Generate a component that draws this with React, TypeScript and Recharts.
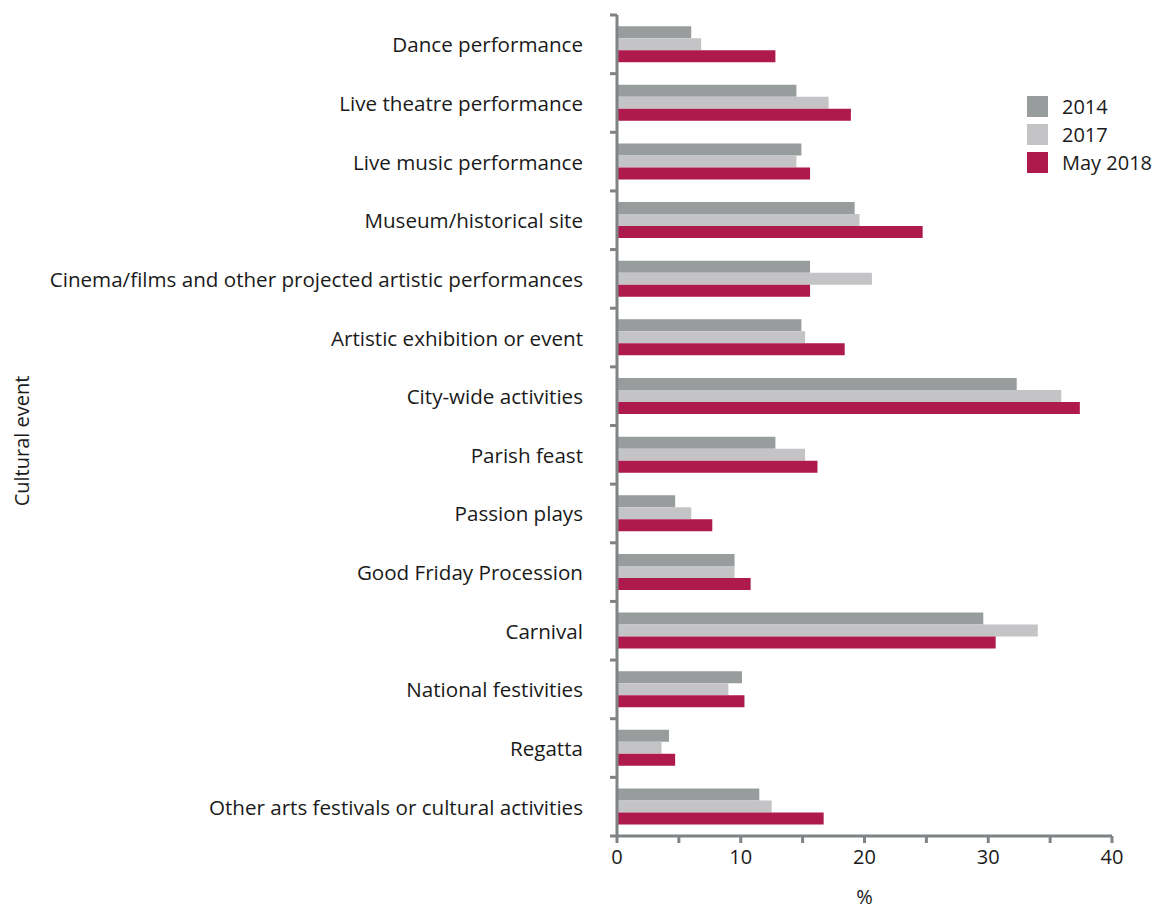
import { Bar, BarChart, XAxis, YAxis, Label } from "recharts";

const categories = [
  "Dance performance",
  "Live theatre performance",
  "Live music performance",
  "Museum/historical site",
  "Cinema/films and other projected artistic performances",
  "Artistic exhibition or event",
  "City-wide activities",
  "Parish feast",
  "Passion plays",
  "Good Friday Procession",
  "Carnival",
  "National festivities",
  "Regatta",
  "Other arts festivals or cultural activities",
];

const y2014 = [6.0, 14.5, 14.9, 19.2, 15.6, 14.9, 32.3, 12.8, 4.7, 9.5, 29.6, 10.1, 4.2, 11.5];
const y2017 = [6.8, 17.1, 14.5, 19.6, 20.6, 15.2, 35.9, 15.2, 6.0, 9.5, 34.0, 9.0, 3.6, 12.5];
const may2018 = [12.8, 18.9, 15.6, 24.7, 15.6, 18.4, 37.4, 16.2, 7.7, 10.8, 30.6, 10.3, 4.7, 16.7];

const xTicks = [0, 5, 10, 15, 20, 25, 30, 35, 40];

const series = [
  { key: "y2014", name: "2014", color: "#989c9d" },
  { key: "y2017", name: "2017", color: "#c4c4c6" },
  { key: "may2018", name: "May 2018", color: "#ae1a4b" },
];

const data = categories.map((c, i) => ({
  category: c,
  y2014: y2014[i],
  y2017: y2017[i],
  may2018: may2018[i],
}));

const FONT = "'Open Sans', sans-serif";
const AXIS = "#7f8386";
const TEXT = "#1a1a1a";
const TICK_SIZE = 6;
const TICK_MARGIN = 28;

// category label plus a tick mark on the band boundary (not the band centre)
function CategoryTick(props: any) {
  const { x, y, payload, index, visibleTicksCount } = props;
  const half = payload.offset ?? 0;
  const axisX = x + TICK_MARGIN + TICK_SIZE;
  const last = index === visibleTicksCount - 1;
  return (
    <g>
      <line x1={axisX - 7} x2={axisX} y1={y - half} y2={y - half} stroke={AXIS} strokeWidth={3} />
      {last && (
        <line x1={axisX - 7} x2={axisX} y1={y + half} y2={y + half} stroke={AXIS} strokeWidth={3} />
      )}
      <text x={x} y={y} textAnchor="end" dominantBaseline="central" fill={TEXT} fontSize={20.6} fontFamily={FONT}>
        {payload.value}
      </text>
    </g>
  );
}

function LegendBox() {
  return (
    <div
      style={{
        position: "absolute",
        left: 1027,
        top: 92,
        fontFamily: FONT,
        fontSize: 20,
        color: TEXT,
      }}
    >
      {series.map((s) => (
        <div key={s.key} style={{ display: "flex", alignItems: "center", height: 28 }}>
          <div style={{ width: 21, height: 21, background: s.color, marginRight: 14 }} />
          <span>{s.name}</span>
        </div>
      ))}
    </div>
  );
}

// rotated y-axis title, a bit below the plot centre like the original
const yTitle = () => (
  <text
    x={21}
    y={441}
    transform="rotate(-90 21 441)"
    textAnchor="middle"
    dominantBaseline="central"
    fill={TEXT}
    fontSize={20}
    fontFamily={FONT}
  >
    Cultural event
  </text>
);

export default function App() {
  return (
    <div style={{ position: "absolute", left: 0, top: 0, width: 1154, height: 910, background: "#fff" }}>
      <BarChart
        width={1154}
        height={910}
        data={data}
        layout="vertical"
        margin={{ top: 15, right: 42, bottom: 0, left: 0 }}
        barCategoryGap="19%"
        barGap={0}
        style={{ fontFamily: FONT }}
      >
        <XAxis
          type="number"
          domain={[0, 40]}
          ticks={xTicks}
          interval={0}
          tickFormatter={(v: number) => (v % 10 === 0 ? String(v) : "")}
          axisLine={{ stroke: AXIS, strokeWidth: 3 }}
          tickLine={{ stroke: AXIS, strokeWidth: 3 }}
          tickSize={7}
          tick={{ fill: TEXT, fontSize: 20 }}
          tickMargin={7}
          height={74}
        >
          <Label value="%" position="insideBottom" offset={6} style={{ fill: TEXT, fontSize: 20 }} />
        </XAxis>
        <YAxis
          type="category"
          dataKey="category"
          interval={0}
          width={617}
          axisLine={{ stroke: AXIS, strokeWidth: 3 }}
          tickLine={false}
          tickSize={TICK_SIZE}
          tickMargin={TICK_MARGIN}
          tick={<CategoryTick />}
        >
          <Label content={yTitle} />
        </YAxis>
        {series.map((s) => (
          <Bar
            key={s.key}
            dataKey={s.key}
            name={s.name}
            fill={s.color}
            isAnimationActive={false}
          />
        ))}
      </BarChart>
      <LegendBox />
    </div>
  );
}
